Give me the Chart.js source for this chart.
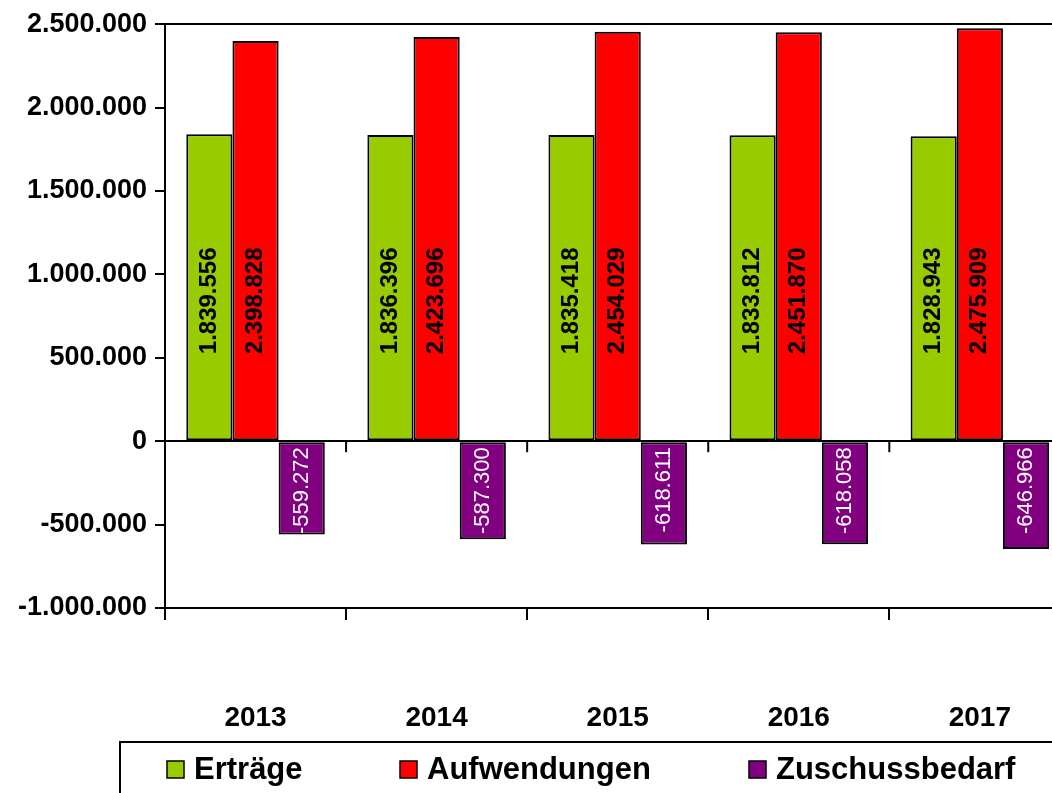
<!DOCTYPE html>
<html>
<head>
<meta charset="utf-8">
<script src="https://cdn.jsdelivr.net/npm/chart.js@4.4.1/dist/chart.umd.min.js"></script>
<style>
  html, body { margin: 0; padding: 0; background: #fff; overflow: hidden; }
  #wrap { width: 1052px; height: 793px; overflow: hidden; position: relative; }
  #box { position: absolute; left: 0; top: 0; width: 1093px; height: 793px; }
</style>
</head>
<body>
<div id="wrap"><div id="box"><canvas id="chart"></canvas></div></div>
<script>
// data
const years = ['2013', '2014', '2015', '2016', '2017'];
const ertraege = [1839556, 1836396, 1835418, 1833812, 1828943];
const aufwendungen = [2398828, 2423696, 2454029, 2451870, 2475909];
const zuschussbedarf = [-559272, -587300, -618611, -618058, -646966];
const yTicks = [-1000000, -500000, 0, 500000, 1000000, 1500000, 2000000, 2500000];

const FONT = "'Liberation Sans', Arial, sans-serif";
const legendX = [167, 400, 749]; // left edge of each legend item

// German style thousands separator
function fmt(v) {
    const s = Math.abs(Math.round(v)).toString().replace(/\B(?=(\d{3})+(?!\d))/g, '.');
    return (v < 0 ? '-' : '') + s;
}

// rotated value labels inside the bars
const valueLabels = {
    id: 'valueLabels',
    afterDatasetsDraw(chart) {
        const ctx = chart.ctx;
        const base = chart.scales.y.getPixelForValue(0);
        chart.data.datasets.forEach((ds, di) => {
            chart.getDatasetMeta(di).data.forEach((bar, i) => {
                const v = ds.data[i];
                ctx.save();
                ctx.textBaseline = 'middle';
                if (v >= 0) {
                    ctx.translate(bar.x, base - 87);
                    ctx.rotate(-Math.PI / 2);
                    ctx.font = 'bold 24px ' + FONT;
                    ctx.fillStyle = '#000';
                    ctx.textAlign = 'left';
                } else {
                    ctx.translate(bar.x, base + 6);
                    ctx.rotate(-Math.PI / 2);
                    ctx.font = '22px ' + FONT;
                    ctx.fillStyle = '#fff';
                    ctx.textAlign = 'right';
                }
                ctx.fillText(fmt(v), 0, 0);
                ctx.restore();
            });
        });
    }
};

// small tick marks hanging below the zero line
const zeroTicks = {
    id: 'zeroTicks',
    afterDraw(chart) {
        const ctx = chart.ctx;
        const x = chart.scales.x;
        const y0 = chart.scales.y.getPixelForValue(0);
        const n = chart.data.labels.length;
        ctx.save();
        ctx.strokeStyle = '#000';
        ctx.lineWidth = 2;
        for (let i = 0; i <= n; i++) {
            const px = x.left + i * x.width / n;
            ctx.beginPath();
            ctx.moveTo(px, y0);
            ctx.lineTo(px, y0 + 11);
            ctx.stroke();
        }
        ctx.restore();
    }
};

// framed legend at the bottom
const boxLegend = {
    id: 'boxLegend',
    afterDraw(chart) {
        const ctx = chart.ctx;
        ctx.save();
        ctx.strokeStyle = '#000';
        ctx.lineWidth = 2;
        ctx.strokeRect(120, 742, 1000, 100);
        ctx.font = 'bold 31px ' + FONT;
        ctx.textBaseline = 'middle';
        ctx.textAlign = 'left';
        chart.data.datasets.forEach((ds, i) => {
            const x = legendX[i];
            ctx.fillStyle = ds.backgroundColor;
            ctx.fillRect(x, 761, 17, 17);
            ctx.lineWidth = 1.5;
            ctx.strokeRect(x, 761, 17, 17);
            ctx.fillStyle = '#000';
            ctx.fillText(ds.label, x + 27, 770);
        });
        ctx.restore();
    }
};

const edgeValues = [yTicks[0], 0, yTicks[yTicks.length - 1]];

new Chart(document.getElementById('chart'), {
    type: 'bar',
    data: {
        labels: years,
        datasets: [
            { label: 'Erträge', data: ertraege, backgroundColor: '#99CC00' },
            { label: 'Aufwendungen', data: aufwendungen, backgroundColor: '#FF0000' },
            { label: 'Zuschussbedarf', data: zuschussbedarf, backgroundColor: '#800080' }
        ]
    },
    options: {
        responsive: true,
        maintainAspectRatio: false,
        animation: false,
        layout: { padding: { top: 21, right: 10, left: 0, bottom: 0 } },
        datasets: {
            bar: {
                categoryPercentage: 0.765,
                barPercentage: 1,
                borderColor: '#000',
                borderWidth: 2,
                borderSkipped: false
            }
        },
        plugins: {
            legend: { display: false },
            tooltip: { enabled: false }
        },
        scales: {
            x: {
                grid: { display: true, drawOnChartArea: false, offset: true, color: '#000', lineWidth: 2, tickLength: 12 },
                border: { display: true, color: '#000', width: 2 },
                ticks: { color: '#000', font: { family: FONT, size: 28, weight: 'bold' }, padding: 81 },
                afterFit(s) { s.height = 185; }
            },
            y: {
                min: yTicks[0],
                max: yTicks[yTicks.length - 1],
                ticks: {
                    stepSize: yTicks[1] - yTicks[0],
                    color: '#000',
                    font: { family: FONT, size: 27, weight: 'bold' },
                    padding: 8,
                    callback: v => fmt(v)
                },
                grid: {
                    color: c => edgeValues.includes(c.tick && c.tick.value) ? '#000' : 'rgba(0,0,0,0)',
                    tickColor: '#000',
                    lineWidth: 2,
                    tickLength: 10
                },
                border: { display: true, color: '#000', width: 2 },
                afterFit(s) { s.width = 165; }
            }
        }
    },
    plugins: [valueLabels, zeroTicks, boxLegend]
});
</script>
</body>
</html>
